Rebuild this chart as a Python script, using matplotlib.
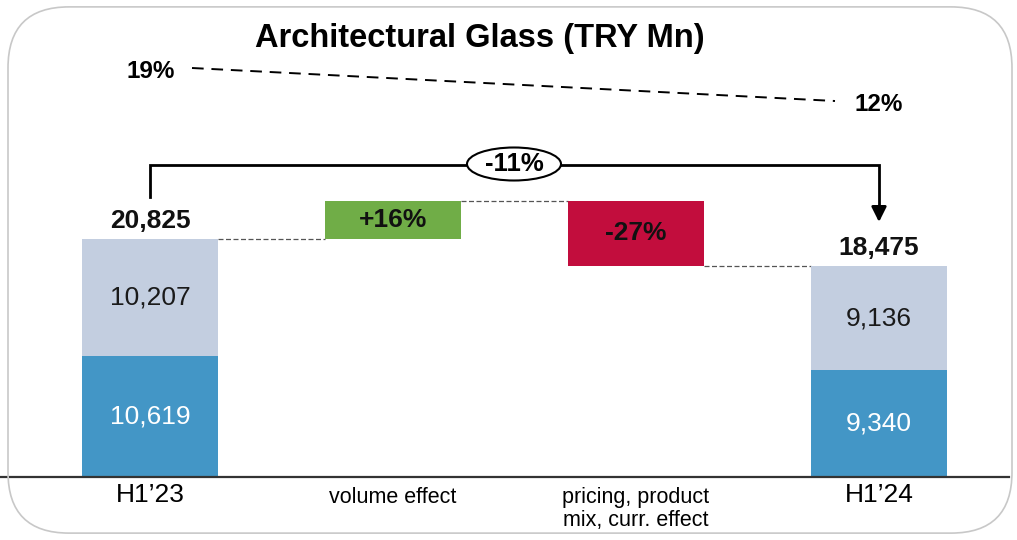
import matplotlib
matplotlib.use("Agg")
import matplotlib.pyplot as plt
from matplotlib.patches import FancyBboxPatch, Ellipse

plt.rcParams['font.family'] = ['Liberation Sans', 'DejaVu Sans']

# ---- data ----
categories = ["H1\u201923", "volume effect", "pricing, product\nmix, curr. effect", "H1\u201924"]
start_parts = [10619, 10207]          # bottom, top
end_parts = [9340, 9136]
start_total = 20825
end_total = 18475
volume_delta = 3332                   # +16%
pricing_delta = -5682                 # -27%
delta_labels = ["+16%", "-27%"]
total_change = "-11%"
margins = ["19%", "12%"]

c_blue = "#4396C6"
c_light = "#C3CEE0"
c_green = "#70AD47"
c_red = "#C20D3D"

W, H = 1017, 540
fig = plt.figure(figsize=(W/100, H/100), dpi=100)
ax = fig.add_axes([0, 0, 1, 1])

px_per_cat = 243.0
x0_px = 150.0
ax.set_xlim(-x0_px/px_per_cat, (W - x0_px)/px_per_cat)
u_per_px = start_total / (477 - 239)
base_px = H - 477
ax.set_ylim(-base_px*u_per_px, (H - base_px)*u_per_px)
ax.axis('off')

bw = 0.56
xs = [0, 1, 2, 3]

# start bar
ax.bar(xs[0], start_parts[0], bw, color=c_blue, zorder=2)
ax.bar(xs[0], start_parts[1], bw, bottom=start_parts[0], color=c_light, zorder=2)
# end bar
ax.bar(xs[3], end_parts[0], bw, color=c_blue, zorder=2)
ax.bar(xs[3], end_parts[1], bw, bottom=end_parts[0], color=c_light, zorder=2)
# deltas
lvl1 = start_total + volume_delta
ax.bar(xs[1], volume_delta, bw, bottom=start_total, color=c_green, zorder=2)
ax.bar(xs[2], pricing_delta, bw, bottom=lvl1, color=c_red, zorder=2)

# segment labels
fs = 19
ax.text(xs[0], start_parts[0]/2, f"{start_parts[0]:,}", ha='center', va='center', color='white', fontsize=fs)
ax.text(xs[0], start_parts[0] + start_parts[1]/2, f"{start_parts[1]:,}", ha='center', va='center', color='#1a1a1a', fontsize=fs)
ax.text(xs[3], end_parts[0]/2, f"{end_parts[0]:,}", ha='center', va='center', color='white', fontsize=fs)
ax.text(xs[3], end_parts[0] + end_parts[1]/2, f"{end_parts[1]:,}", ha='center', va='center', color='#1a1a1a', fontsize=fs)
ax.text(xs[1], start_total + volume_delta/2, delta_labels[0], ha='center', va='center', color='#111111', fontsize=fs, fontweight='bold')
ax.text(xs[2], lvl1 + pricing_delta/2, delta_labels[1], ha='center', va='center', color='#111111', fontsize=fs, fontweight='bold')

# totals
ax.text(xs[0], start_total + 550, f"{start_total:,}", ha='center', va='bottom', fontsize=fs, fontweight='bold', color='#111111')
ax.text(xs[3], end_total + 550, f"{end_total:,}", ha='center', va='bottom', fontsize=fs, fontweight='bold', color='#111111')

# connectors
kw = dict(color='#555555', lw=0.9, ls=(0, (4, 2)), zorder=1)
ax.plot([xs[0]+bw/2, xs[1]-bw/2], [start_total]*2, **kw)
ax.plot([xs[1]+bw/2, xs[2]-bw/2], [lvl1]*2, **kw)
ax.plot([xs[2]+bw/2, xs[3]-bw/2], [end_total]*2, **kw)

# baseline
ax.plot([-x0_px/px_per_cat, (W - 8 - x0_px)/px_per_cat], [0, 0], color='#333333', lw=1.6, zorder=3)

# categories
ax.text(xs[0], -500, categories[0], ha='center', va='top', fontsize=19)
ax.text(xs[3], -500, categories[3], ha='center', va='top', fontsize=19)
ax.text(xs[1], -900, categories[1], ha='center', va='top', fontsize=15.5)
ax.text(xs[2], -900, categories[2], ha='center', va='top', fontsize=15.5, linespacing=1.12)

# bracket
y_br = (477 - 165) * u_per_px
y_left_bot = (477 - 197) * u_per_px
y_arrow = (477 - 222) * u_per_px
ax.plot([xs[0], xs[0], xs[3], xs[3]], [y_left_bot, y_br, y_br, y_arrow + 1200], color='black', lw=2, zorder=4, solid_joinstyle='miter')
ax.annotate("", xy=(xs[3], y_arrow), xytext=(xs[3], y_arrow + 1400),
            arrowprops=dict(arrowstyle='-|>,head_width=0.45,head_length=0.9', color='black', lw=2, shrinkA=0, shrinkB=0), zorder=5)
xe = (514 - x0_px) / px_per_cat
ell = Ellipse((xe, (477 - 164) * u_per_px), 94/px_per_cat, 33*u_per_px, facecolor='white', edgecolor='black', lw=1.5, zorder=5)
ax.add_patch(ell)
ax.text(xe, (477 - 164) * u_per_px, total_change, ha='center', va='center', fontsize=18.5, fontweight='bold', zorder=6)

# margin line (figure pixel coords)
def fx(px): return px / W
def fy(py): return 1 - py / H
fig.lines.append(plt.Line2D([fx(192), fx(835)], [fy(68), fy(101)], transform=fig.transFigure,
                            color='black', lw=1.4, ls=(0, (6, 4))))
fig.text(fx(151), fy(71), margins[0], ha='center', va='center', fontsize=17.5, fontweight='bold')
fig.text(fx(879), fy(104), margins[1], ha='center', va='center', fontsize=17.5, fontweight='bold')

# title
fig.text(fx(480), fy(38), "Architectural Glass (TRY Mn)", ha='center', va='center', fontsize=23.5, fontweight='bold')

# rounded border
box = FancyBboxPatch((fx(8)+0.03, fy(535)+0.06), fx(1004)-0.06, (530/H)-0.12,
                     boxstyle="round,pad=0.03,rounding_size=0.06", transform=fig.transFigure,
                     facecolor='none', edgecolor='#C8C8C8', lw=1.2, mutation_aspect=W/H)
fig.patches.append(box)

fig.savefig("out.png", dpi=100)
